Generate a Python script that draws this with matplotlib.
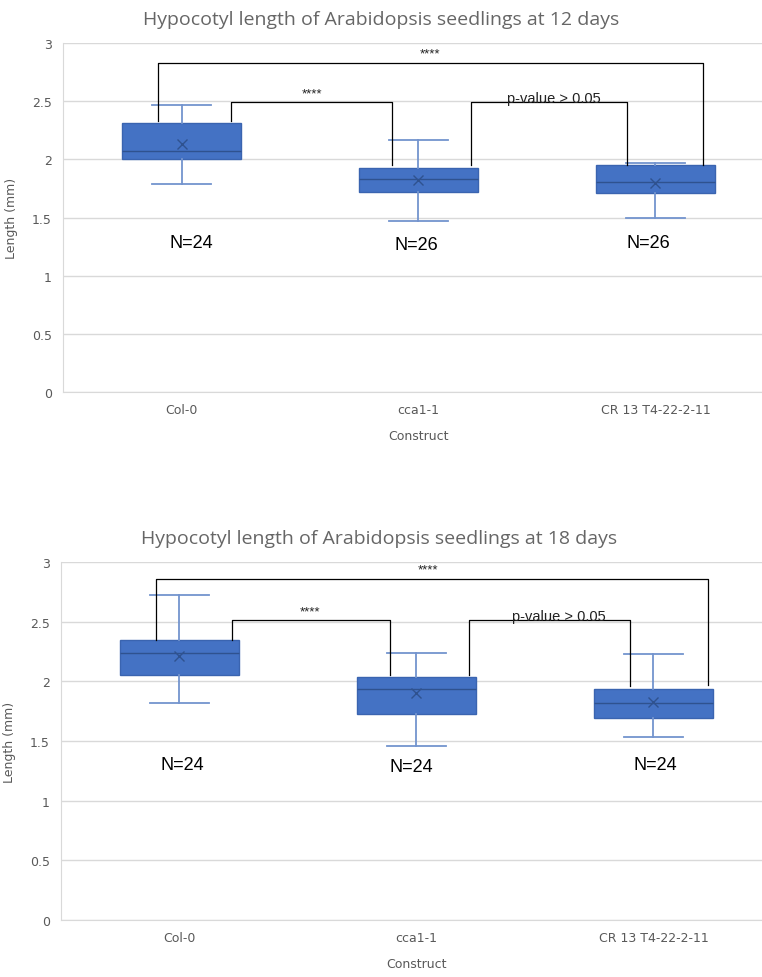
import matplotlib
matplotlib.use("Agg")
import matplotlib.pyplot as plt

# ---- data ----
constructs = ["Col-0", "cca1-1", "CR 13 T4-22-2-11"]

titles = ["Hypocotyl length of Arabidopsis seedlings at 12 days",
          "Hypocotyl length of Arabidopsis seedlings at 18 days"]

# day 12
q1_12 = [2.00, 1.72, 1.71]
med_12 = [2.07, 1.83, 1.81]
q3_12 = [2.31, 1.93, 1.95]
lo_12 = [1.79, 1.47, 1.50]
hi_12 = [2.47, 2.17, 1.97]
mean_12 = [2.13, 1.82, 1.80]
n_12 = [24, 26, 26]

# day 18
q1_18 = [2.05, 1.73, 1.69]
med_18 = [2.24, 1.94, 1.82]
q3_18 = [2.35, 2.04, 1.94]
lo_18 = [1.82, 1.46, 1.53]
hi_18 = [2.72, 2.24, 2.23]
mean_18 = [2.21, 1.90, 1.83]
n_18 = [24, 24, 24]

BOX = "#4472C4"
WHISK = "#7394CE"
DARK = "#2F528F"
GRID = "#D9D9D9"
GRAYTXT = "#595959"

TICKFONT = ["Liberation Sans Narrow", "DejaVu Sans"]
TEXTFONT = ["Liberation Sans", "DejaVu Sans"]


def bracket(ax, x0, x1, y, y0, y1, label, lx, ly, size, lw=0.9):
    ax.plot([x0, x0, x1, x1], [y0, y, y, y1], color="black", lw=lw, zorder=4)
    ax.text(lx, ly, label, ha="center", va="bottom", fontsize=size,
            family=TEXTFONT, color="#222222", zorder=5)


def draw(ax, title, q1, med, q3, lo, hi, mean, n, brackets, n_y):
    stats = []
    for i in range(len(constructs)):
        stats.append(dict(med=med[i], q1=q1[i], q3=q3[i], whislo=lo[i],
                          whishi=hi[i], mean=mean[i], fliers=[],
                          label=constructs[i]))
    ax.bxp(stats, positions=range(len(constructs)), widths=0.5,
           patch_artist=True, showmeans=True, meanline=False,
           boxprops=dict(facecolor=BOX, edgecolor="#3A64B0", lw=1),
           medianprops=dict(color=DARK, lw=1),
           whiskerprops=dict(color=WHISK, lw=1.3),
           capprops=dict(color=WHISK, lw=1.3),
           meanprops=dict(marker="x", markeredgecolor=DARK, markersize=7,
                          markeredgewidth=1))
    for i, v in enumerate(n):
        ax.text(i + n_y[1][i], n_y[0][i], f"N={v}", ha="center", va="center",
                fontsize=13, family=TEXTFONT, color="black")
    for b in brackets:
        bracket(ax, *b)

    ax.set_xlim(-0.5, len(constructs) - 0.5)
    ax.set_ylim(0, 3)
    ax.set_yticks([0, 0.5, 1, 1.5, 2, 2.5, 3])
    ax.set_yticklabels(["0", "0.5", "1", "1.5", "2", "2.5", "3"])
    ax.grid(axis="y", color=GRID, lw=1)
    ax.set_axisbelow(True)
    for s in ["top", "right"]:
        ax.spines[s].set_visible(False)
    ax.spines["left"].set_color(GRID)
    ax.spines["bottom"].set_color(GRID)
    ax.tick_params(length=0, labelsize=9, labelcolor=GRAYTXT, pad=8)
    for lab in ax.get_xticklabels() + ax.get_yticklabels():
        lab.set_family(TICKFONT)
    ax.set_xlabel("Construct", fontsize=9, color=GRAYTXT, family=TICKFONT,
                  labelpad=9)
    ax.set_ylabel("Length (mm)", fontsize=9, color=GRAYTXT, family=TICKFONT,
                  labelpad=10)
    ax.set_title(title, fontsize=14, color="#666666", family=["Open Sans",
                 "DejaVu Sans"], pad=14, x=0.447)


fig = plt.figure(figsize=(7.62, 9.78), dpi=100)
ax1 = fig.add_axes([0.0827, 0.598, 0.933, 0.357])
ax2 = fig.add_axes([0.080, 0.0583, 0.933, 0.366])

br12 = [
    (-0.10, 2.20, 2.83, 2.33, 1.95, "****", 1.05, 2.855, 9.5),
    (0.21, 0.89, 2.49, 2.33, 1.95, "****", 0.55, 2.515, 9.5),
    (1.22, 1.88, 2.49, 1.95, 1.95, "p-value > 0.05", 1.57, 2.465, 10.5),
]
br18 = [
    (-0.10, 2.23, 2.86, 2.35, 1.97, "****", 1.05, 2.885, 9.5),
    (0.22, 0.89, 2.51, 2.35, 2.05, "****", 0.55, 2.535, 9.5),
    (1.22, 1.90, 2.51, 2.05, 1.96, "p-value > 0.05", 1.60, 2.485, 10.5),
]

draw(ax1, titles[0], q1_12, med_12, q3_12, lo_12, hi_12, mean_12, n_12,
     br12, ([1.29, 1.27, 1.29], [0.04, -0.01, -0.03]))
draw(ax2, titles[1], q1_18, med_18, q3_18, lo_18, hi_18, mean_18, n_18,
     br18, ([1.30, 1.29, 1.30], [0.01, -0.02, 0.01]))

fig.savefig("out.png", dpi=100)
